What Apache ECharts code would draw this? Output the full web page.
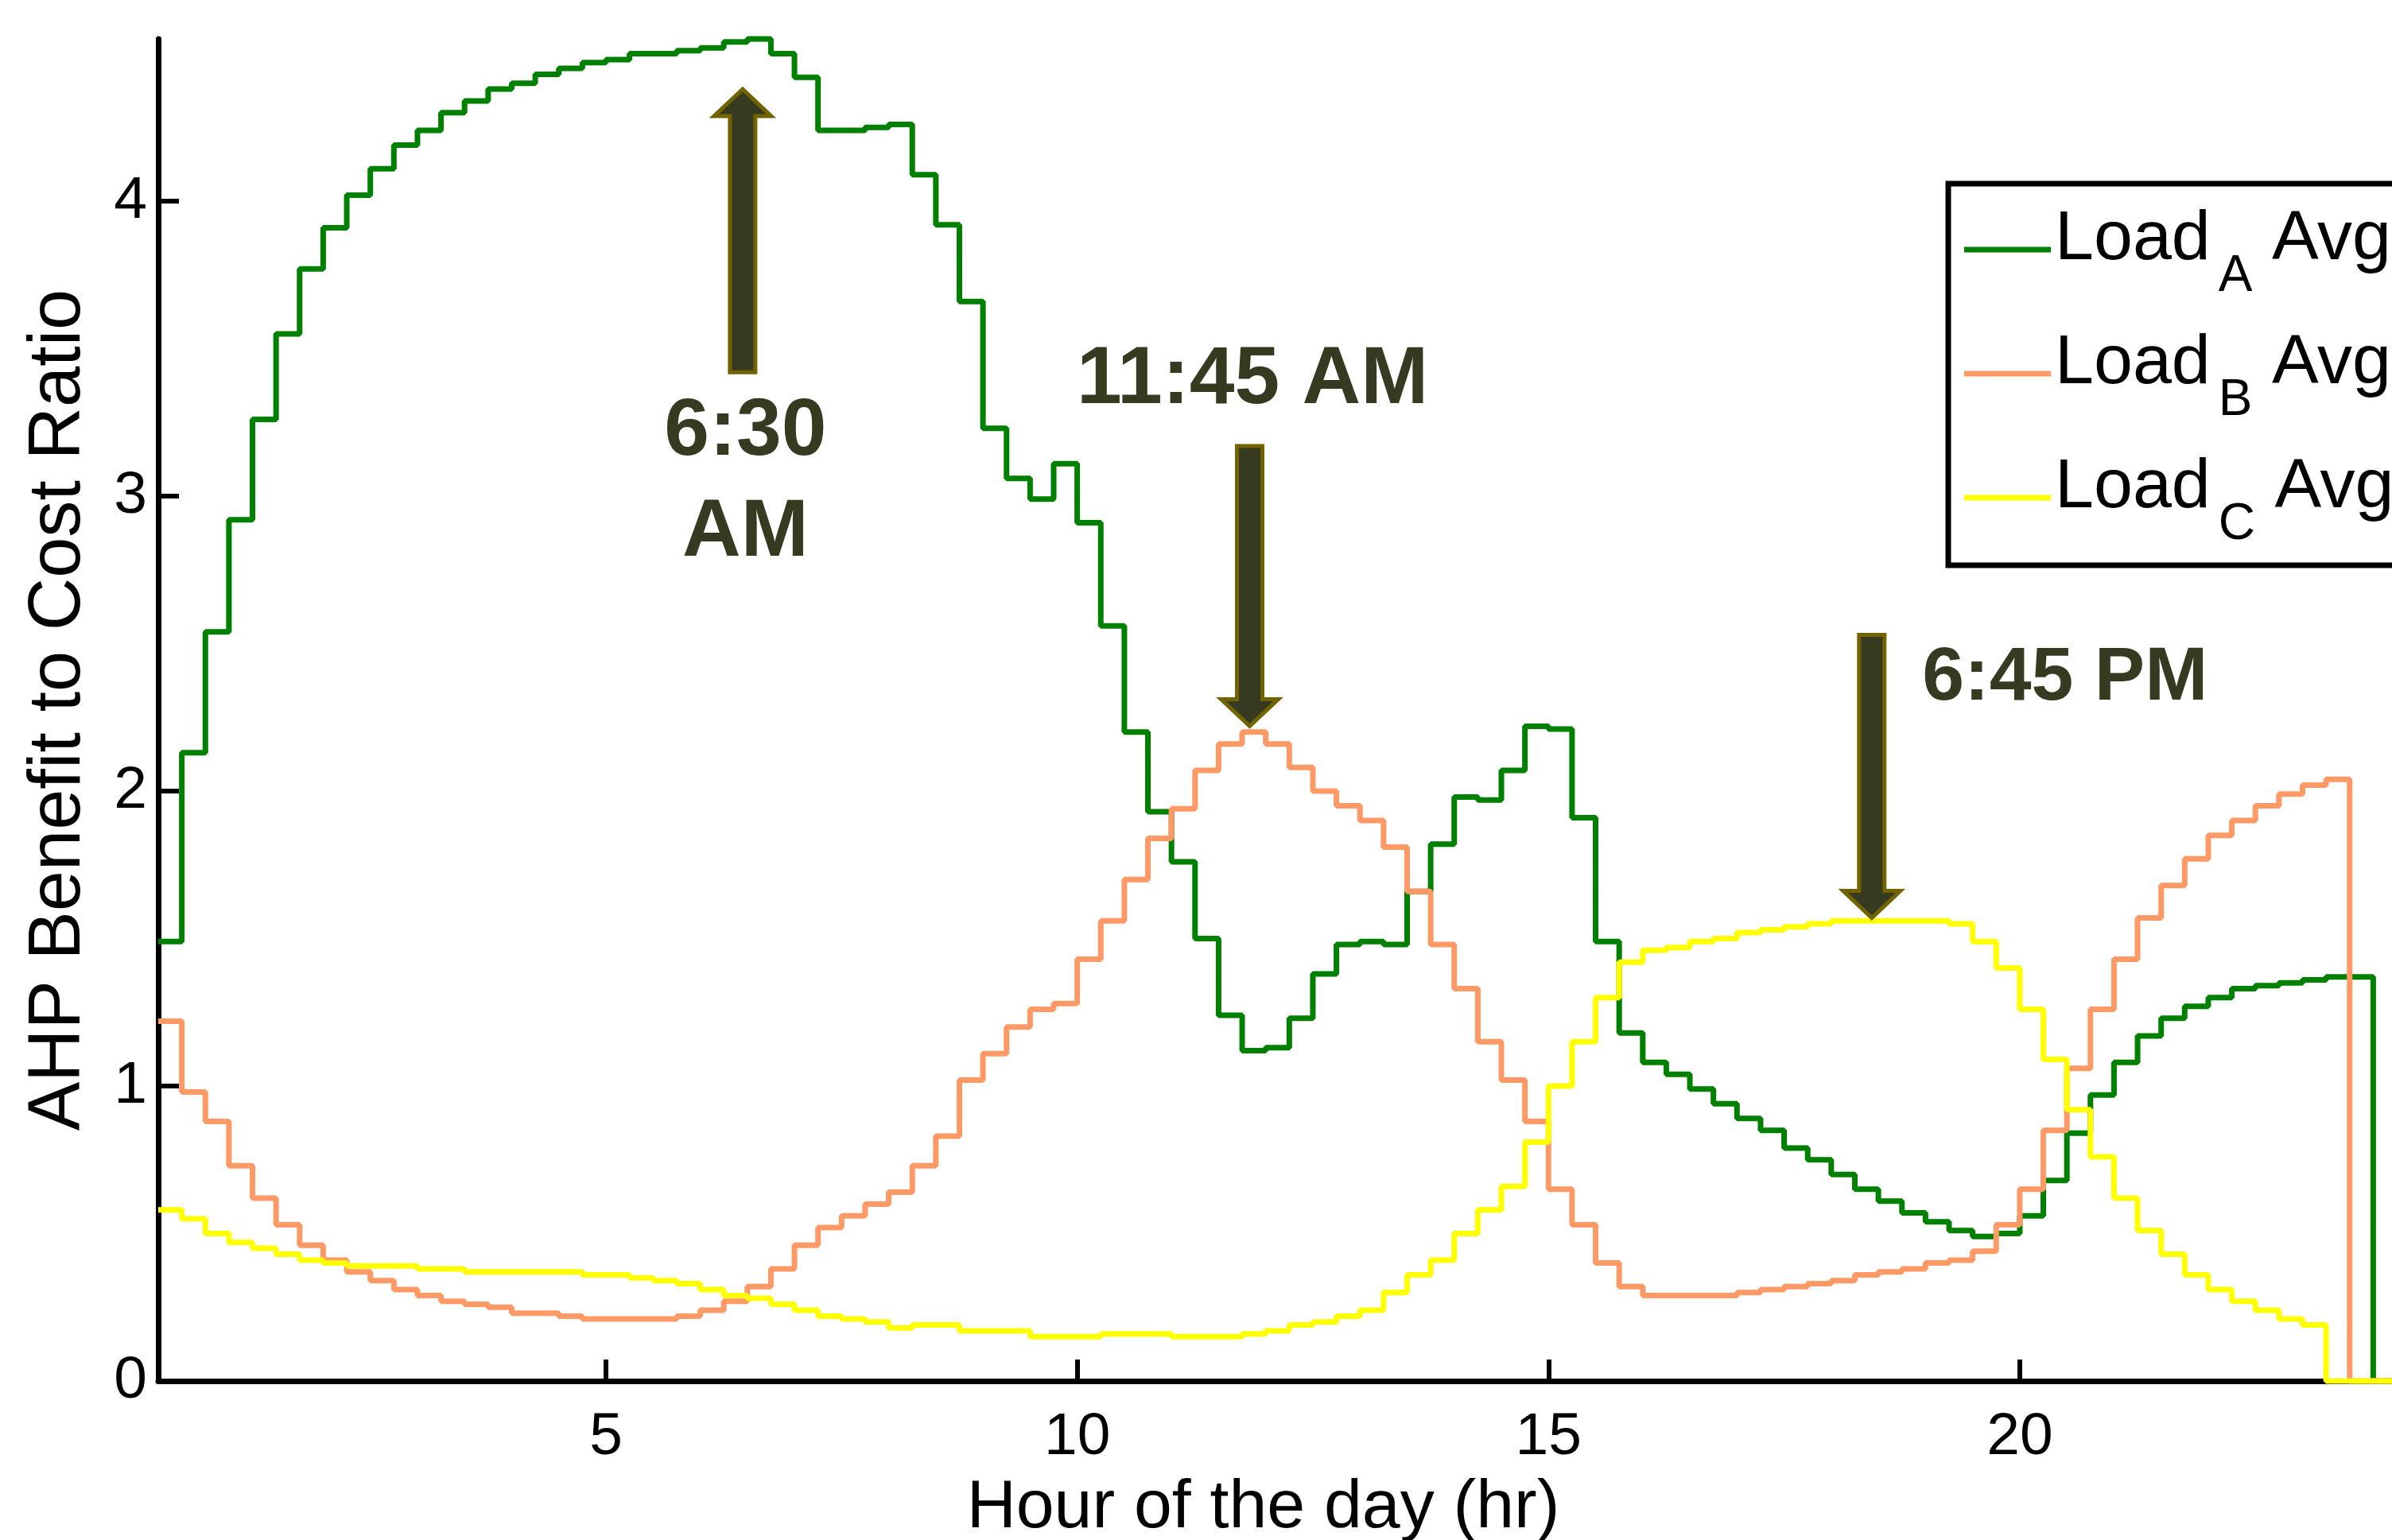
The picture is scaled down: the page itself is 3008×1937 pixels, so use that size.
<!DOCTYPE html>
<html>
<head>
<meta charset="utf-8">
<script src="https://cdn.jsdelivr.net/npm/echarts@6/dist/echarts.min.js"></script>
<style>html,body{margin:0;padding:0;background:#fff}#c{width:3008px;height:1937px}</style>
</head>
<body>
<div id="c"></div>
<script>
// ---- data ----
const hours = [0.25,0.5,0.75,1,1.25,1.5,1.75,2,2.25,2.5,2.75,3,3.25,3.5,3.75,4,4.25,4.5,4.75,5,
  5.25,5.5,5.75,6,6.25,6.5,6.75,7,7.25,7.5,7.75,8,8.25,8.5,8.75,9,9.25,9.5,9.75,10,
  10.25,10.5,10.75,11,11.25,11.5,11.75,12,12.25,12.5,12.75,13,13.25,13.5,13.75,14,14.25,14.5,14.75,15,
  15.25,15.5,15.75,16,16.25,16.5,16.75,17,17.25,17.5,17.75,18,18.25,18.5,18.75,19,19.25,19.5,19.75,20,
  20.25,20.5,20.75,21,21.25,21.5,21.75,22,22.25,22.5,22.75,23,23.25,23.5,23.75,24];

const loadA = [1.49,2.13,2.54,2.92,3.26,3.55,3.77,3.91,4.02,4.11,
  4.19,4.24,4.30,4.34,4.38,4.40,4.43,4.45,4.47,4.48,
  4.50,4.50,4.51,4.52,4.54,4.55,4.50,4.42,4.24,4.24,
  4.25,4.26,4.09,3.92,3.66,3.23,3.06,2.99,3.11,2.91,
  2.56,2.20,1.93,1.76,1.50,1.24,1.12,1.13,1.23,1.38,
  1.48,1.49,1.48,1.66,1.82,1.98,1.97,2.07,2.22,2.21,
  1.91,1.49,1.18,1.08,1.04,0.99,0.94,0.89,0.85,0.79,
  0.75,0.70,0.65,0.61,0.57,0.54,0.51,0.49,0.50,0.56,
  0.68,0.84,0.97,1.08,1.17,1.23,1.27,1.30,1.33,1.34,
  1.35,1.36,1.37,1.37,0,0];

const loadB = [1.22,0.98,0.88,0.73,0.62,0.53,0.46,0.41,0.37,0.34,
  0.31,0.29,0.27,0.26,0.25,0.23,0.23,0.22,0.21,0.21,
  0.21,0.21,0.22,0.24,0.27,0.32,0.38,0.46,0.52,0.56,
  0.60,0.64,0.73,0.83,1.02,1.11,1.20,1.26,1.28,1.43,
  1.56,1.70,1.84,1.94,2.07,2.16,2.20,2.16,2.08,2.00,
  1.95,1.90,1.81,1.66,1.48,1.33,1.15,1.02,0.88,0.65,
  0.53,0.40,0.32,0.29,0.29,0.29,0.29,0.30,0.31,0.32,
  0.33,0.34,0.36,0.37,0.38,0.40,0.41,0.44,0.53,0.65,
  0.85,1.06,1.26,1.43,1.57,1.68,1.77,1.85,1.90,1.95,
  1.99,2.02,2.04,0,0,0];

const loadC = [0.58,0.55,0.50,0.47,0.45,0.43,0.41,0.40,0.39,0.39,
  0.39,0.38,0.38,0.37,0.37,0.37,0.37,0.37,0.36,0.36,
  0.35,0.34,0.33,0.31,0.29,0.28,0.26,0.24,0.22,0.21,
  0.20,0.18,0.19,0.19,0.17,0.17,0.17,0.15,0.15,0.15,
  0.16,0.16,0.16,0.15,0.15,0.15,0.16,0.17,0.19,0.20,
  0.22,0.24,0.30,0.36,0.41,0.50,0.58,0.66,0.81,1.00,
  1.15,1.30,1.42,1.46,1.47,1.49,1.50,1.52,1.53,1.54,
  1.55,1.56,1.56,1.56,1.56,1.56,1.55,1.49,1.40,1.26,
  1.09,0.92,0.76,0.62,0.51,0.43,0.36,0.31,0.27,0.24,
  0.21,0.19,0,0,0,0];

const seriesNames = ['LoadA Avg', 'LoadB Avg', 'LoadC Avg'];
const seriesSubs = ['A', 'B', 'C'];
const seriesValues = [loadA, loadB, loadC];
const seriesColors = ['#008000', '#FF9966', '#FFFF00'];

const xTickValues = [5, 10, 15, 20];
const yTickValues = [0, 1, 2, 3, 4];

// annotation arrows: [hour, tail value, tip value]
const arrowHours = [6.45, 11.83, 18.43];
const arrowTails = [3.42, 3.17, 2.53];
const arrowTips = [4.38, 2.22, 1.57];

// annotation texts
const noteTexts = ['6:30', 'AM', '11:45 AM', '6:45 PM'];
const noteHours = [6.48, 6.48, 11.86, 20.48];
const noteValues = [3.215, 2.875, 3.39, 2.38];
const noteSizes = [102, 102, 102, 95];

// ---- chart ----
const FONT = 'Liberation Sans';
const chart = echarts.init(document.getElementById('c'), null, {renderer: 'canvas'});

const lineSeries = seriesNames.map((name, s) => ({
  type: 'line',
  name: name,
  data: hours.map((h, i) => [h, seriesValues[s][i]]),
  step: 'end',
  symbol: 'none',
  showSymbol: false,
  clip: false,
  lineStyle: {color: seriesColors[s], width: 7},
  itemStyle: {color: seriesColors[s]},
  emphasis: {disabled: true},
  z: 3 + s
}));

const arrowSeries = {
  type: 'custom',
  name: 'arrows',
  coordinateSystem: 'cartesian2d',
  silent: true,
  clip: false,
  z: 10,
  data: arrowHours.map((h, i) => [h, arrowTails[i], arrowTips[i]]),
  encode: {x: 0, y: [1, 2]},
  renderItem: function (params, api) {
    const x = api.value(0);
    const tail = api.coord([x, api.value(1)]);
    const tip = api.coord([x, api.value(2)]);
    const dir = tip[1] > tail[1] ? 1 : -1;
    const w = 16, hw = 36, hl = 34;
    const cx = tail[0];
    const by = tip[1] - dir * hl;
    return {
      type: 'polygon',
      shape: {points: [[cx - w, tail[1]], [cx - w, by], [cx - hw, by], [cx, tip[1]],
                       [cx + hw, by], [cx + w, by], [cx + w, tail[1]]]},
      style: {fill: '#363A20', stroke: '#716300', lineWidth: 5, lineJoin: 'miter'}
    };
  }
};

const noteSeries = {
  type: 'custom',
  name: 'notes',
  coordinateSystem: 'cartesian2d',
  silent: true,
  clip: false,
  z: 11,
  data: noteHours.map((h, i) => [h, noteValues[i]]),
  encode: {x: 0, y: 1},
  renderItem: function (params, api) {
    const p = api.coord([api.value(0), api.value(1)]);
    const i = params.dataIndex;
    return {
      type: 'text',
      x: p[0], y: p[1],
      style: {
        text: noteTexts[i],
        fill: '#363A20',
        fontSize: noteSizes[i],
        fontWeight: 'bold',
        fontFamily: FONT,
        align: 'center',
        verticalAlign: 'middle'
      }
    };
  }
};

const option = {
  animation: false,
  backgroundColor: '#ffffff',
  textStyle: {fontFamily: FONT, color: '#000'},
  grid: {left: 199, top: 49, right: -6, bottom: 200, containLabel: false, outerBoundsMode: 'none'},
  xAxis: {
    type: 'value',
    min: 0.25,
    max: 24,
    name: 'Hour of the day (hr)',
    nameLocation: 'middle',
    nameGap: 117,
    nameMoveOverlap: false,
    nameTextStyle: {fontSize: 86, color: '#000', fontFamily: FONT, padding: [0, 36, 0, 0]},
    axisLine: {show: true, onZero: false, lineStyle: {color: '#000', width: 7}},
    axisTick: {show: true, inside: true, length: 27, lineStyle: {color: '#000', width: 6}, customValues: xTickValues},
    axisLabel: {show: true, customValues: xTickValues, fontSize: 75, color: '#000', fontFamily: FONT, margin: 34},
    splitLine: {show: false}
  },
  yAxis: {
    type: 'value',
    min: 0,
    max: 'dataMax',
    interval: 1,
    name: 'AHP Benefit to Cost Ratio',
    nameLocation: 'middle',
    nameGap: 78,
    nameMoveOverlap: false,
    nameTextStyle: {fontSize: 92, color: '#000', fontFamily: FONT},
    axisLine: {show: true, onZero: false, lineStyle: {color: '#000', width: 7}},
    axisTick: {show: true, inside: true, length: 26, lineStyle: {color: '#000', width: 6}, customValues: yTickValues},
    axisLabel: {show: true, customValues: yTickValues, fontSize: 75, color: '#000', fontFamily: FONT, margin: 14},
    splitLine: {show: false}
  },
  legend: {
    data: seriesNames,
    orient: 'vertical',
    left: 2450,
    top: 231,
    padding: [13, 70, 15, 20],
    itemGap: 16,
    itemWidth: 109,
    itemHeight: 7,
    icon: 'rect',
    selectedMode: false,
    backgroundColor: '#ffffff',
    borderColor: '#000',
    borderWidth: 7,
    borderRadius: 0,
    formatter: function (name) {
      const i = seriesNames.indexOf(name);
      return '{n|Load}{s|' + seriesSubs[i] + '}{n| Avg}';
    },
    textStyle: {
      color: '#000', fontFamily: FONT, fontSize: 88,
      rich: {
        n: {fontSize: 88, fontFamily: FONT, color: '#000', height: 116, lineHeight: 140, verticalAlign: 'top'},
        s: {fontSize: 64, fontFamily: FONT, color: '#000', height: 72, lineHeight: 140, verticalAlign: 'bottom', padding: [0, 0, 0, 10]}
      }
    }
  },
  series: lineSeries.concat([arrowSeries, noteSeries])
};

chart.setOption(option);
</script>
</body>
</html>
